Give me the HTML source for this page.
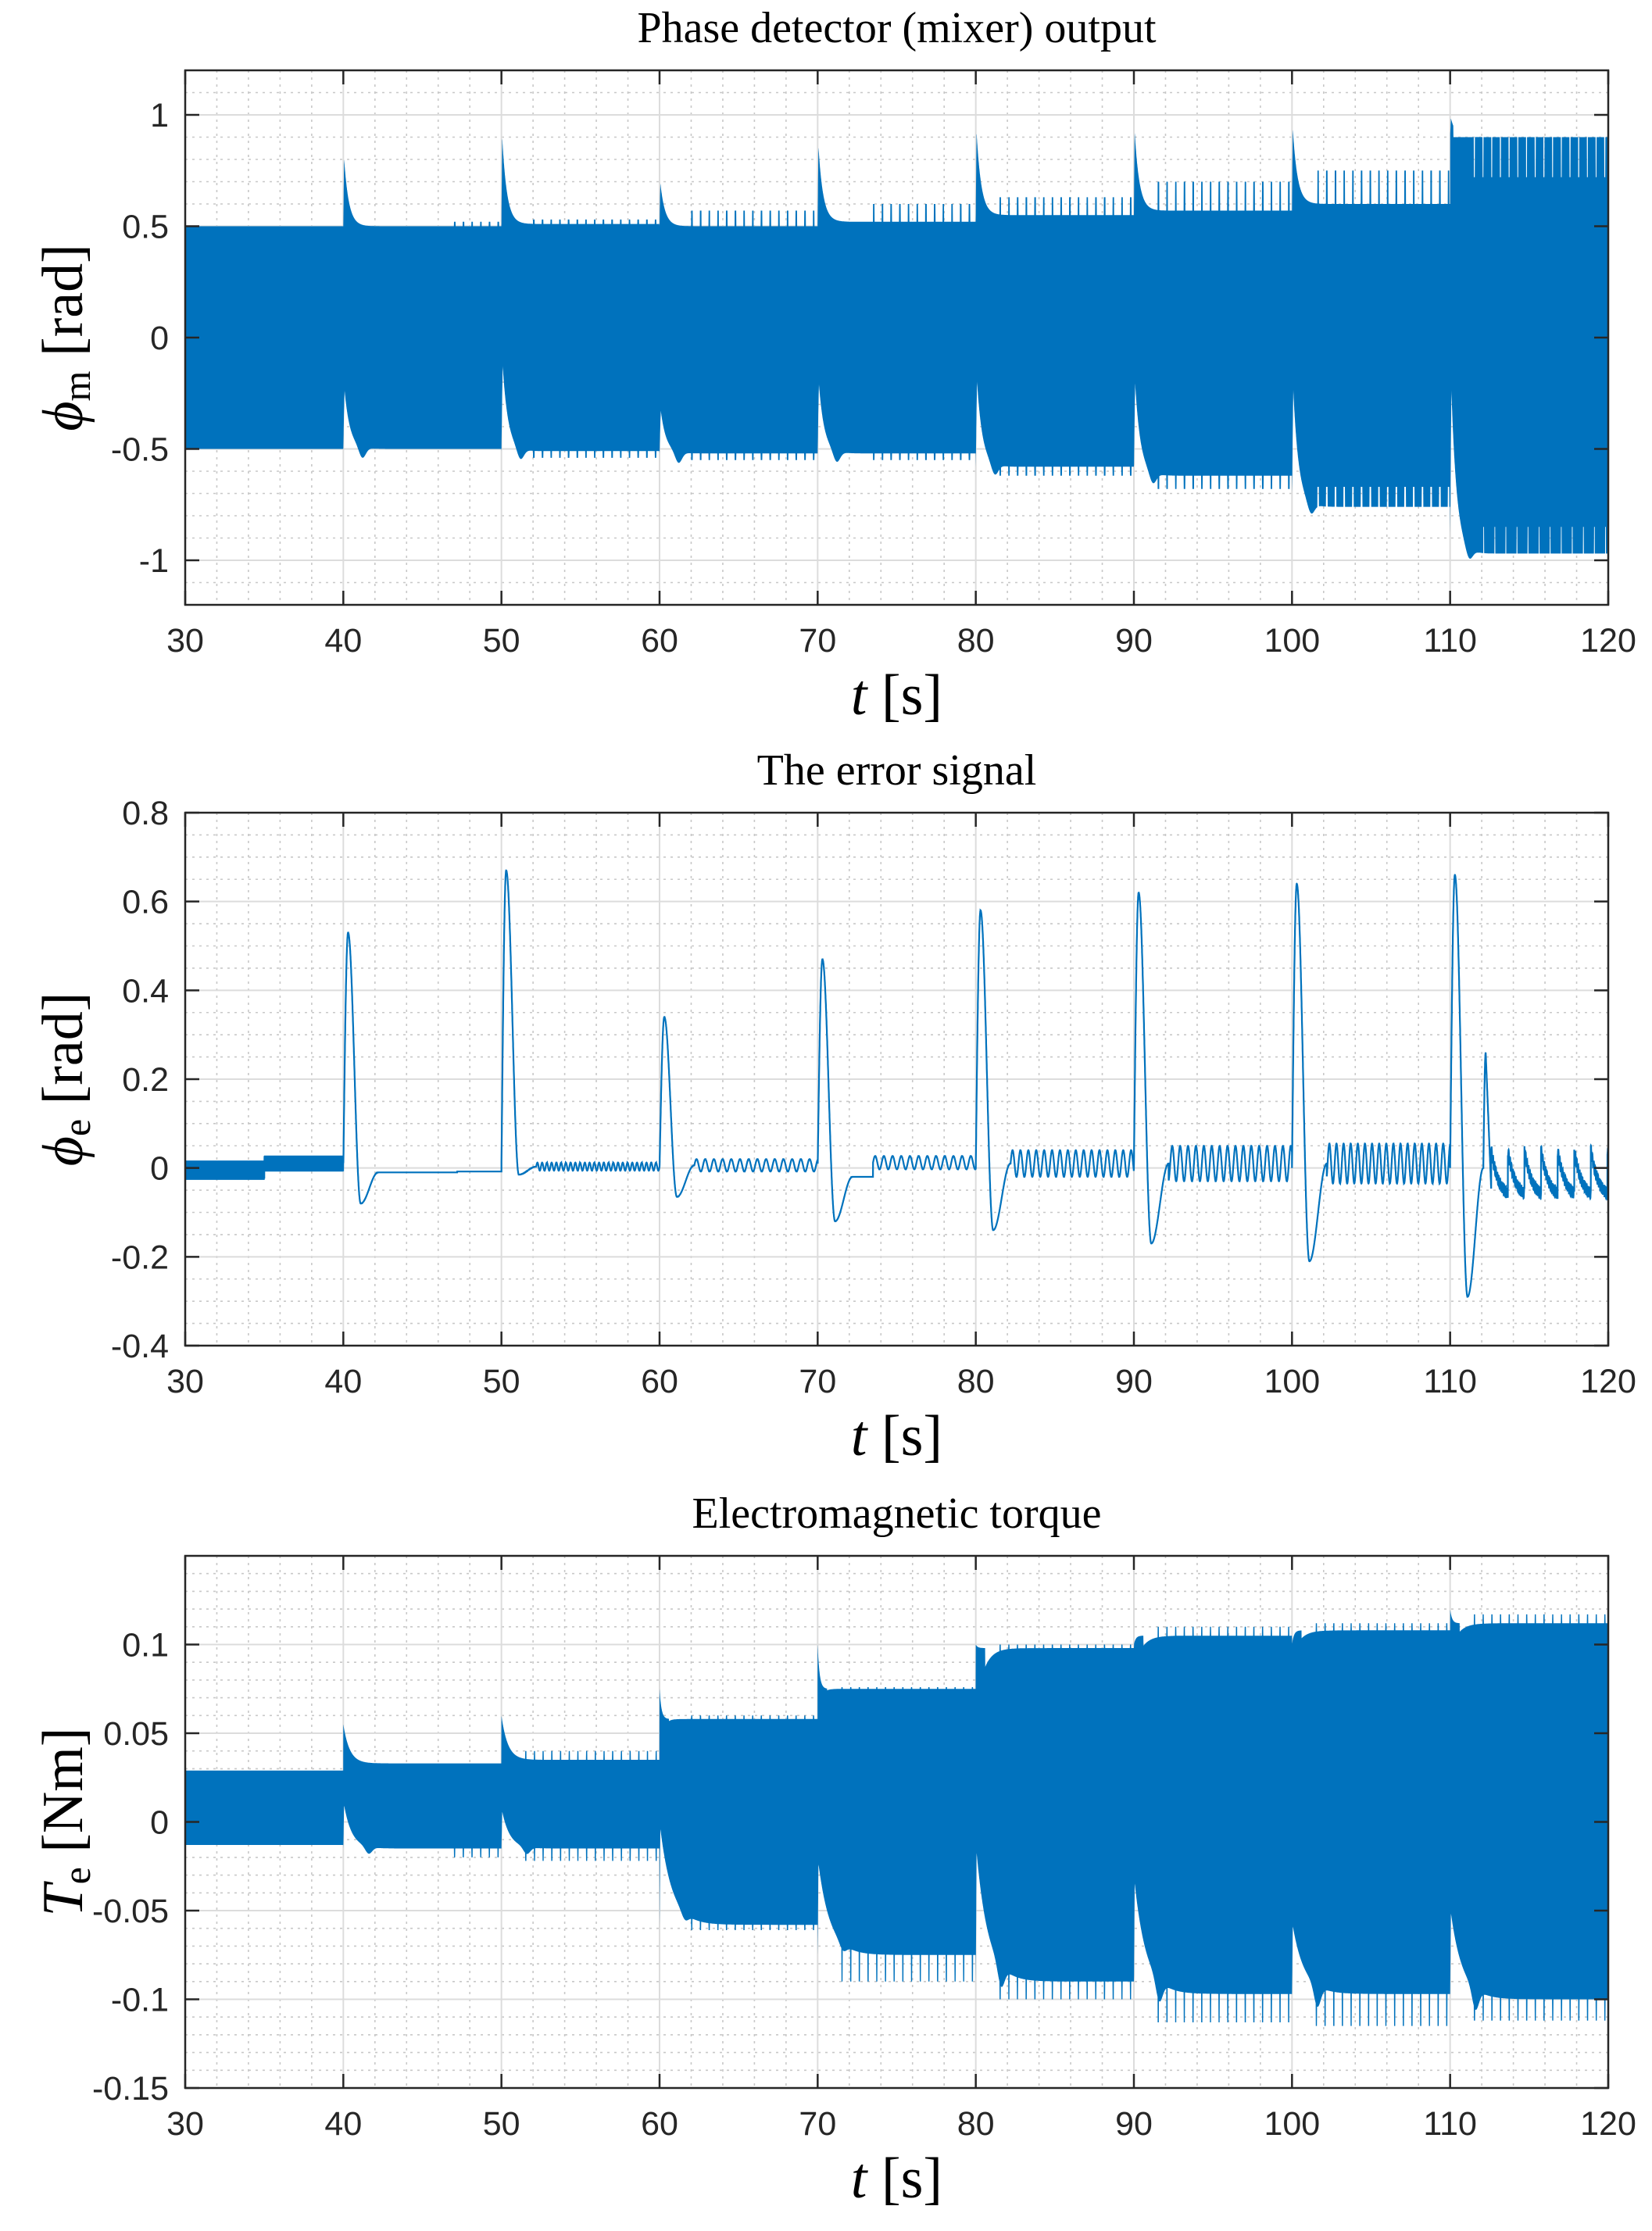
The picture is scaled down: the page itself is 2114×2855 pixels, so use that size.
<!DOCTYPE html>
<html><head><meta charset="utf-8"><style>html,body{margin:0;padding:0;background:#fff}svg{display:block}</style></head>
<body>
<svg id="s" xmlns="http://www.w3.org/2000/svg" width="2114" height="2855" viewBox="0 0 2114 2855"></svg>
<script>
const X0=237,X1=2058;
const xs=t=>X0+(t-30)/90*(X1-X0);
let out='<rect width="2114" height="2855" fill="#fff"/>';
const C='#0072BD';
let clipN=0;
function axes(a){
  const ys=v=>a.bot-(v-a.ymin)/(a.ymax-a.ymin)*(a.bot-a.top);
  a.ys=ys;
  a.clip='c'+(clipN++);
  let g=`<defs><clipPath id="${a.clip}"><rect x="${X0}" y="${a.top}" width="${X1-X0}" height="${a.bot-a.top}"/></clipPath></defs>`;
  for(let t=32;t<120;t+=2){if(t%10==0)continue;g+=`<line x1="${xs(t)}" x2="${xs(t)}" y1="${a.top}" y2="${a.bot}" stroke="#c8c8c8" stroke-width="1.6" stroke-dasharray="3,6"/>`;}
  const n=Math.round((a.ymax-a.ymin)/a.minor);
  for(let i=1;i<n;i++){const v=a.ymin+i*a.minor;if(a.ticks.some(q=>Math.abs(q-v)<1e-9))continue;g+=`<line x1="${X0}" x2="${X1}" y1="${ys(v)}" y2="${ys(v)}" stroke="#c8c8c8" stroke-width="1.6" stroke-dasharray="3,6"/>`;}
  for(let t=40;t<120;t+=10)g+=`<line x1="${xs(t)}" x2="${xs(t)}" y1="${a.top}" y2="${a.bot}" stroke="#dcdcdc" stroke-width="2"/>`;
  a.ticks.forEach(v=>{g+=`<line x1="${X0}" x2="${X1}" y1="${ys(v)}" y2="${ys(v)}" stroke="#dcdcdc" stroke-width="2"/>`;});
  a.g=g;return a;
}
function finish(a){
  let g='';
  g+=`<rect x="${X0}" y="${a.top}" width="${X1-X0}" height="${a.bot-a.top}" fill="none" stroke="#262626" stroke-width="2.5"/>`;
  for(let t=30;t<=120;t+=10){const x=xs(t);g+=`<line x1="${x}" x2="${x}" y1="${a.bot}" y2="${a.bot-18}" stroke="#262626" stroke-width="2.5"/><line x1="${x}" x2="${x}" y1="${a.top}" y2="${a.top+18}" stroke="#262626" stroke-width="2.5"/>`;
    g+=`<text x="${x}" y="${a.bot+60}" font-family="Liberation Sans, sans-serif" font-size="43" fill="#262626" text-anchor="middle">${t}</text>`;}
  a.ticks.forEach((v,i)=>{const y=a.ys(v);g+=`<line x1="${X0}" x2="${X0+18}" y1="${y}" y2="${y}" stroke="#262626" stroke-width="2.5"/><line x1="${X1}" x2="${X1-18}" y1="${y}" y2="${y}" stroke="#262626" stroke-width="2.5"/>`;
    if(a.labels[i]!=null)g+=`<text x="216" y="${y+15}" font-family="Liberation Sans, sans-serif" font-size="43" fill="#262626" text-anchor="end">${a.labels[i]}</text>`;});
  g+=`<text x="${(X0+X1)/2}" y="${a.top-36}" font-family="Liberation Serif, serif" font-size="56" fill="#000" text-anchor="middle">${a.title}</text>`;
  g+=`<text x="${(X0+X1)/2}" y="${a.bot+140}" font-family="Liberation Serif, serif" font-size="74" fill="#000" text-anchor="middle"><tspan font-style="italic">t</tspan> [s]</text>`;
  const cy=(a.top+a.bot)/2;
  g+=`<text transform="translate(105,${cy}) rotate(-90)" font-family="Liberation Serif, serif" font-size="74" fill="#000" text-anchor="middle">${a.ylab}</text>`;
  return g;
}
function band(a,U,L){
  let up=[],lo=[];
  for(let t=30;t<=120.0001;t+=0.008){up.push(xs(t).toFixed(1)+','+a.ys(U(t)).toFixed(1));lo.push(xs(t).toFixed(1)+','+a.ys(L(t)).toFixed(1));}
  return `<polygon clip-path="url(#${a.clip})" points="${up.join(' ')} ${lo.reverse().join(' ')}" fill="${C}"/>`;
}
const seg=t=>Math.min(8,Math.max(0,Math.floor((t-30)/10)));
const comb=(t,E,start,per,w)=>{const s=t-E-start;if(s<0)return 0;const f=(s/per)%1;return f<w/per?1:0;};
// Plot 1
let A=axes({top:90,bot:774,ymin:-1.2,ymax:1.2,minor:0.1,ticks:[-1,-0.5,0,0.5,1],labels:['-1','-0.5','0','0.5','1'],title:'Phase detector (mixer) output',ylab:'<tspan font-style="italic">ϕ</tspan><tspan font-size="50" dy="10">m</tspan><tspan dy="-10"> [rad]</tspan>'});
{
const U=[.5,.5,.51,.5,.52,.55,.57,.6,.9],L=[-.5,-.5,-.51,-.52,-.52,-.58,-.62,-.76,-.97];
const cU=[.5,.52,.53,.57,.6,.63,.7,.75,.93],cL=[-.5,-.5,-.54,-.55,-.55,-.62,-.68,-.8,-.99];
const P=[0,.86,.97,.73,.92,.99,.99,1.0,1.0],Le=[0,-.17,-.03,-.28,-.13,-.1,-.1,-.1,-.05];
const cs=[99,7,2,2,3.5,1.5,1.5,1.6,1.5];
const fU=t=>{const k=seg(t),E=30+10*k;let s=t-E;let v=U[k];if(k>0){v+=(P[k]-U[k])*Math.exp(-s/0.3)*Math.min(1,s/0.05);}
  if(k<8){if(comb(t,E,cs[k],0.55,0.1))v=Math.max(v,cU[k]);}else{if(s>1.5&&comb(t,E,1.5,0.55,0.06))v=0.72;if(s>0.2&&s<1.5)v=Math.min(v,0.9);}
  return v;};
const fL=t=>{const k=seg(t),E=30+10*k;let s=t-E;let v=L[k];if(k>0){const d=Math.min(1,s/0.08);v=L[k]+(Le[k]-L[k])*Math.exp(-s/0.35)*d-0.05*Math.exp(-Math.pow((s-1.2)/0.3,2));}
  if(k<8&&comb(t,E,cs[k],0.55,0.1))v=Math.min(v,cL[k]);
  if(k==7&&comb(t,E,1.6,0.55,0.1))v=-0.67;
  if(k==8&&s>2&&comb(t,E,2.1,0.7,0.05))v=-0.85;
  return v;};
out+=A.g+band(A,fU,fL)+finish(A);
}
// Plot 2
let B=axes({top:1040,bot:1722,ymin:-0.4,ymax:0.8,minor:0.05,ticks:[-0.4,-0.2,0,0.2,0.4,0.6,0.8],labels:['-0.4','-0.2','0','0.2','0.4','0.6','0.8'],title:'The error signal',ylab:'<tspan font-style="italic">ϕ</tspan><tspan font-size="50" dy="10">e</tspan><tspan dy="-10"> [rad]</tspan>'});
{
const P=[0,.53,.67,.34,.47,.58,.62,.64,.66],D=[0,-.08,-.015,-.065,-.12,-.14,-.17,-.21,-.29];
const osc=[[0,0,1,99],[-.008,0,.3,7.2],[.003,.009,.3,1.6],[.006,.014,.55,2.2],[.012,.015,.55,3.5],[.01,.03,.5,2.2],[.01,.04,.5,1.8],[.01,.045,.45,1.8],[0,0,1,99]];
const f=t=>{const k=seg(t),E=30+10*k,s=t-E;
  if(k==0){return t<35?(-0.005+0.022*Math.sin(t*2*Math.PI/0.03)):(0.01+0.018*Math.sin(t*2*Math.PI/0.03));}
  let v=0;const o=osc[k];
  if(s<0.3)v=P[k]*Math.sin(Math.PI/2*s/0.3);
  else if(s<1.1)v=P[k]+(D[k]-P[k])*(1-Math.cos(Math.PI*(s-0.3)/0.8))/2;
  else if(k==8&&s<2.1){v=D[k]+(0.0-D[k])*(1-Math.cos(Math.PI*(s-1.1)/1.0))/2;}
  else if(s<2.2&&k!=8){const base=(k==4)?-0.02:(k==1?-0.01:o[0]);v=D[k]+(base-D[k])*(1-Math.cos(Math.PI*(s-1.1)/1.1))/2;}
  else{
    if(k==8){
      if(s<2.25)return 0.26*Math.sin(Math.PI*(s-2.1)/0.3);
      if(s<2.6)return 0.26*(1-(s-2.25)/0.35)-0.05*(s-2.25)/0.35;
      let ph=(((s-2.6)/1.05)%1+1)%1;
      return -0.07+0.11*Math.exp(-ph*2.2)+0.012*Math.sin(s*70);
    }
    if(k==4&&s<3.5)return -0.02;
    if(k==1&&s<7.2)return -0.01;
    v=o[0]+o[1]*Math.sin(2*Math.PI*(s-o[3])/o[2]);
  }
  return v;};
let pts=[];for(let t=30;t<=120.0001;t+=0.004)pts.push(xs(t).toFixed(1)+','+B.ys(f(t)).toFixed(1));
out+=B.g+`<polyline clip-path="url(#${B.clip})" points="${pts.join(' ')}" fill="none" stroke="${C}" stroke-width="2.2"/>`+finish(B);
}
// Plot 3
let Cc=axes({top:1991,bot:2672,ymin:-0.15,ymax:0.15,minor:0.01,ticks:[-0.15,-0.1,-0.05,0,0.05,0.1],labels:['-0.15','-0.1','-0.05','0','0.05','0.1'],title:'Electromagnetic torque',ylab:'<tspan font-style="italic">T</tspan><tspan font-size="50" dy="10">e</tspan><tspan dy="-10"> [Nm]</tspan>'});
{
const U=[.029,.033,.035,.058,.075,.098,.105,.108,.112],L=[-.013,-.015,-.015,-.058,-.075,-.09,-.097,-.097,-.1];
const cU=[0,.033,.04,.06,.076,.1,.11,.112,.117],cL=[0,-.02,-.022,-.061,-.09,-.1,-.113,-.115,-.112];
const P=[0,.055,.06,.075,.1,.1,.1,.1,.12],Le=[0,.012,.008,0,-.02,-.012,-.03,-.056,-.048];
const cs=[99,7,1.5,2,1.5,1.5,1.5,1.5,1.5];
const fU=t=>{const k=seg(t),E=30+10*k,s=t-E;let v=U[k];
  if(k>0){const prev=U[k-1];if(k>=5)v=U[k]+(Math.min(prev,U[k])-0.012-U[k])*Math.exp(-s/0.5);else if(k>=3)v=U[k]+(prev-U[k])*Math.exp(-s/0.2);
    if(s<0.6)v=Math.max(v,U[k]+(P[k]-U[k])*Math.exp(-s/0.12));if(k==1||k==2)v=Math.max(v,U[k]+(P[k]-U[k])*Math.exp(-s/0.4));}
  if(k>0&&comb(t,E,cs[k],0.55,0.08))v=Math.max(v,cU[k]);
  return v;};
const fL=t=>{const k=seg(t),E=30+10*k,s=t-E;let v=L[k];
  if(k>0){const tau=k>=3?0.75:0.5;v=L[k]+(Le[k]-L[k])*Math.exp(-s/tau)*Math.min(1,s/0.05)-(k>=5?0.012:0.004)*Math.exp(-Math.pow((s-1.6)/0.3,2));}
  if(k>0&&comb(t,E,cs[k],0.55,0.08))v=Math.min(v,cL[k]);
  return v;};
out+=Cc.g+band(Cc,fU,fL)+finish(Cc);
}
document.getElementById('s').innerHTML=out;
</script>
</body></html>
